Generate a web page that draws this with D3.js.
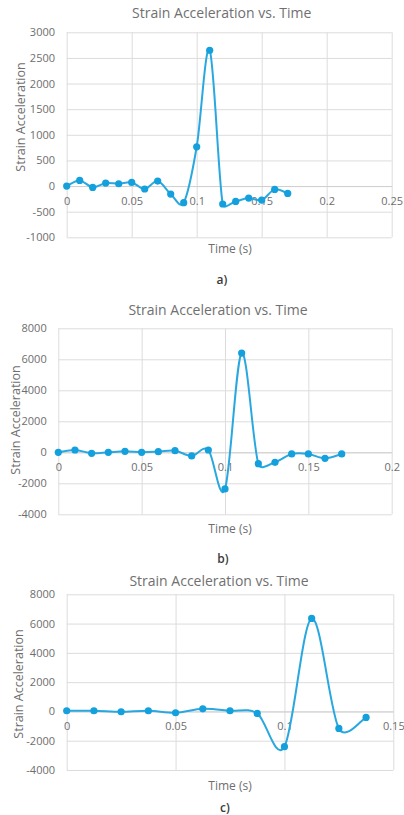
<!DOCTYPE html>
<html>
<head>
<meta charset="utf-8">
<script src="https://cdn.jsdelivr.net/npm/d3@7"></script>
<style>
  html, body { margin: 0; padding: 0; background: #fff; }
  svg { display: block; }
  text { font-family: "Open Sans", "Noto Sans", sans-serif; }
</style>
</head>
<body>
<svg id="chart" width="404" height="815"></svg>
<script>
// Panel a) measurements
const timeA = [0, 0.01, 0.02, 0.03, 0.04, 0.05, 0.06, 0.07, 0.08, 0.09, 0.10, 0.11, 0.12, 0.13, 0.14, 0.15, 0.16, 0.17];
const accelA = [0, 110, -26, 58, 45, 71, -58, 97, -156, -325, 766, 2650, -350, -300, -234, -273, -65, -143];
const xTicksA = [0, 0.05, 0.1, 0.15, 0.2, 0.25];
const yTicksA = [-1000, -500, 0, 500, 1000, 1500, 2000, 2500, 3000];

// Panel b) measurements
const timeB = [0, 0.01, 0.02, 0.03, 0.04, 0.05, 0.06, 0.07, 0.08, 0.09, 0.10, 0.11, 0.12, 0.13, 0.14, 0.15, 0.16, 0.17];
const accelB = [0, 150, -65, 0, 65, 0, 43, 107, -237, 150, -2366, 6400, -731, -645, -108, -108, -387, -108];
const xTicksB = [0, 0.05, 0.1, 0.15, 0.2];
const yTicksB = [-4000, -2000, 0, 2000, 4000, 6000, 8000];

// Panel c) measurements
const timeC = [0, 0.0125, 0.025, 0.0375, 0.05, 0.0625, 0.075, 0.0875, 0.1, 0.1125, 0.125, 0.1375];
const accelC = [45, 45, -23, 45, -90, 180, 45, -136, -2410, 6350, -1160, -410];
const xTicksC = [0, 0.05, 0.1, 0.15];
const yTicksC = [-4000, -2000, 0, 2000, 4000, 6000, 8000];

const titleText = "Strain Acceleration vs. Time";
const xTitleText = "Time (s)";
const yTitleText = "Strain Acceleration";

const lineColor = "#29a8e0";
const markerColor = "#13a0dc";
const gridColor = "#dcdcdc";
const labelColor = "#6e6e6e";

const svg = d3.select("#chart");

// Spreadsheet-style smoothed line: cubic Bezier segments whose control
// points follow neighbour differences (1/6), capped at half the segment length.
function smoothPath(px) {
  const p = d3.path();
  const dist = (a, b) => Math.hypot(b[0] - a[0], b[1] - a[1]);
  p.moveTo(px[0][0], px[0][1]);
  for (let i = 0; i < px.length - 1; i++) {
    const p0 = px[Math.max(i - 1, 0)];
    const p1 = px[i];
    const p2 = px[i + 1];
    const p3 = px[Math.min(i + 2, px.length - 1)];
    const d12 = dist(p1, p2);
    const d02 = dist(p0, p2);
    const d13 = dist(p1, p3);
    let f0 = 1 / 6, f3 = 1 / 6;
    if (d02 / 6 >= d12 / 2 && d02 > 0) f0 = d12 / (2 * d02);
    if (d13 / 6 >= d12 / 2 && d13 > 0) f3 = d12 / (2 * d13);
    const c1 = [p1[0] + (p2[0] - p0[0]) * f0, p1[1] + (p2[1] - p0[1]) * f0];
    const c2 = [p2[0] - (p3[0] - p1[0]) * f3, p2[1] - (p3[1] - p1[1]) * f3];
    p.bezierCurveTo(c1[0], c1[1], c2[0], c2[1], p2[0], p2[1]);
  }
  return p.toString();
}

function drawPanel(p) {
  const x = d3.scaleLinear().domain(p.xDomain).range(p.xRange);
  const y = d3.scaleLinear().domain(p.yDomain).range(p.yRange);
  const g = svg.append("g");

  // horizontal grid with value labels
  g.append("g")
    .attr("transform", `translate(${p.xRange[0]},0)`)
    .call(d3.axisLeft(y).tickValues(p.yTicks).tickSize(-(p.xRange[1] - p.xRange[0])).tickFormat(d => d))
    .call(a => a.select(".domain").remove())
    .call(a => a.selectAll("line").attr("stroke", gridColor).attr("stroke-width", 1))
    .call(a => a.selectAll("text")
      .attr("x", p.yLabelX)
      .attr("fill", labelColor)
      .style("font-size", "11px"));

  // vertical grid
  g.append("g")
    .attr("transform", `translate(0,${p.yRange[1]})`)
    .call(d3.axisTop(x).tickValues(p.xTicks).tickSize(-(p.yRange[0] - p.yRange[1])).tickFormat(""))
    .call(a => a.select(".domain").remove())
    .call(a => a.selectAll("line").attr("stroke", gridColor).attr("stroke-width", 1));

  // zero line with time labels hanging below it
  const zeroY = y(0);
  g.append("g")
    .attr("transform", `translate(0,${zeroY})`)
    .call(d3.axisBottom(x).tickValues(p.xTicks).tickSize(0).tickPadding(11).tickFormat(d => String(+d.toFixed(2))))
    .call(a => a.select(".domain").attr("stroke", "#cfcfcf"))
    .call(a => a.selectAll("text").attr("fill", labelColor).style("font-size", "11px"));

  // series
  const pts = p.time.map((t, i) => [t, p.accel[i]]);
  const px = pts.map(d => [x(d[0]), y(d[1])]);
  g.append("path")
    .attr("fill", "none")
    .attr("stroke", lineColor)
    .attr("stroke-width", 2)
    .attr("d", smoothPath(px));

  g.append("g").selectAll("circle")
    .data(pts)
    .join("circle")
    .attr("cx", d => x(d[0]))
    .attr("cy", d => y(d[1]))
    .attr("r", 3.6)
    .attr("fill", markerColor);

  // titles
  g.append("text")
    .attr("x", p.titleX).attr("y", p.titleY)
    .attr("text-anchor", "middle").attr("dominant-baseline", "central")
    .attr("fill", "#707070").style("font-size", "14px")
    .text(titleText);

  g.append("text")
    .attr("x", p.xTitleX).attr("y", p.xTitleY)
    .attr("text-anchor", "middle").attr("dominant-baseline", "central")
    .attr("fill", labelColor).style("font-size", "12px")
    .text(xTitleText);

  g.append("text")
    .attr("transform", `translate(${p.yTitleX},${p.yTitleY}) rotate(-90)`)
    .attr("text-anchor", "middle").attr("dominant-baseline", "central")
    .attr("fill", labelColor).style("font-size", "12.5px")
    .text(yTitleText);

  g.append("text")
    .attr("x", p.capX).attr("y", p.capY)
    .attr("text-anchor", "middle").attr("dominant-baseline", "central")
    .attr("fill", "#3a3a3a").style("font-size", "12px").style("font-weight", "600")
    .text(p.caption);
}

drawPanel({
  time: timeA, accel: accelA, xTicks: xTicksA, yTicks: yTicksA,
  xDomain: [0, 0.25], yDomain: [-1000, 3000],
  xRange: [66.7, 391.7], yRange: [237.3, 32.3],
  yLabelX: -11.7,
  titleX: 221.7, titleY: 12.5,
  xTitleX: 230, xTitleY: 248.5,
  yTitleX: 20, yTitleY: 117,
  capX: 222, capY: 279, caption: "a)"
});

drawPanel({
  time: timeB, accel: accelB, xTicks: xTicksB, yTicks: yTicksB,
  xDomain: [0, 0.2], yDomain: [-4000, 8000],
  xRange: [58.3, 391.7], yRange: [514.3, 328.3],
  yLabelX: -11.6,
  titleX: 218, titleY: 309.5,
  xTitleX: 230, xTitleY: 528,
  yTitleX: 15, yTitleY: 420,
  capX: 223, capY: 558, caption: "b)"
});

drawPanel({
  time: timeC, accel: accelC, xTicks: xTicksC, yTicks: yTicksC,
  xDomain: [0, 0.15], yDomain: [-4000, 8000],
  xRange: [66.7, 393.3], yRange: [770, 594.3],
  yLabelX: -11.7,
  titleX: 219, titleY: 580,
  xTitleX: 230, xTitleY: 785,
  yTitleX: 18, yTitleY: 684,
  capX: 225, capY: 807, caption: "c)"
});
</script>
</body>
</html>
